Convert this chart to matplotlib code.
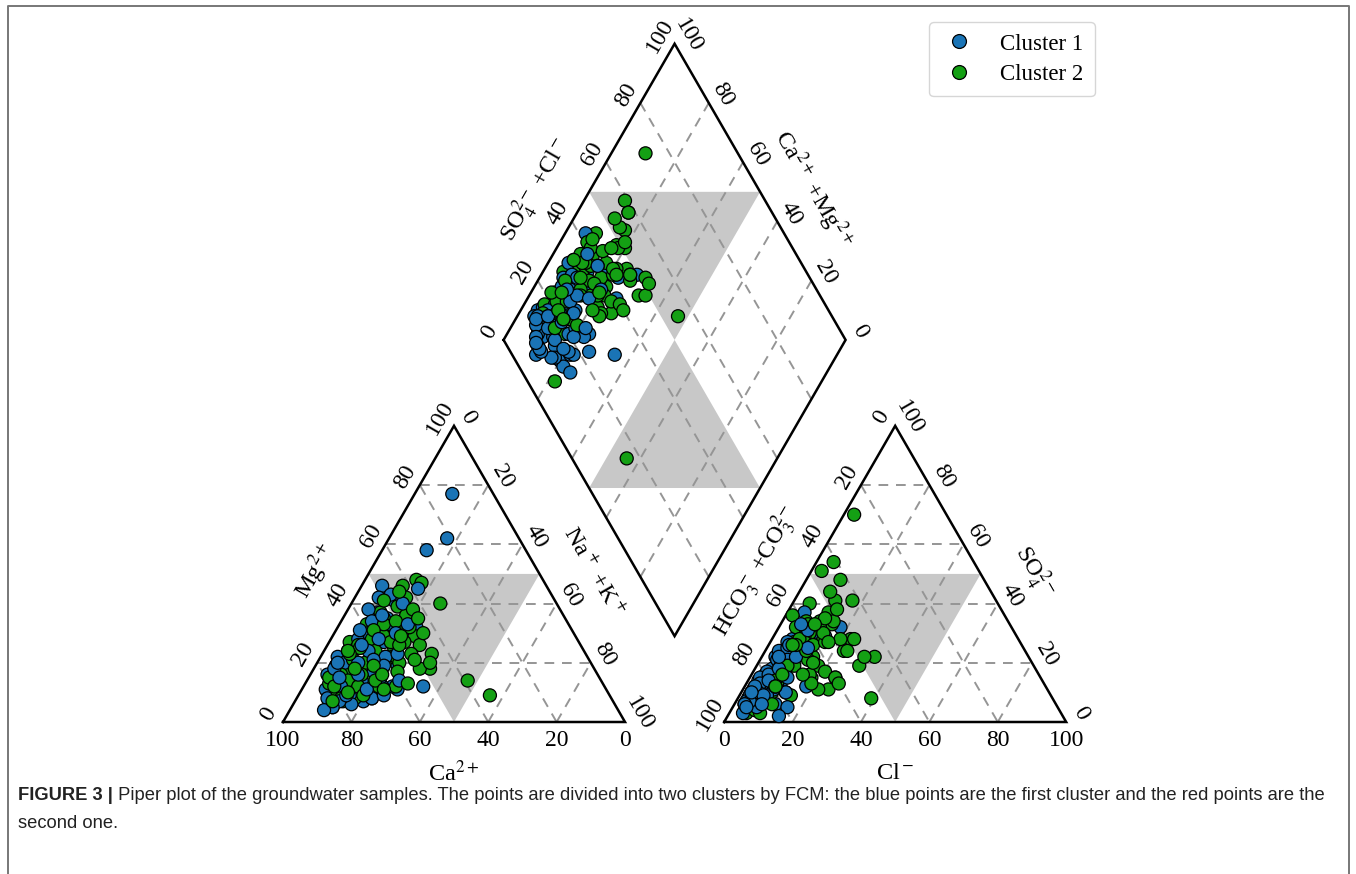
import numpy as np
import matplotlib
matplotlib.use('Agg')
import matplotlib.pyplot as plt
from matplotlib.lines import Line2D
from matplotlib.patches import Polygon

# ---------------- data (meq %) ----------------
# Cluster 1 (blue)
c1_mg = [77, 62, 58, 12, 7, 11, 32, 12, 46, 19, 12, 8, 42, 41, 37, 35, 45, 22, 15, 9,
         8, 12, 19, 24, 28, 30, 26, 21, 17, 14, 10, 6, 5, 13, 18, 23, 27, 33, 29, 25,
         20, 16, 11, 8, 14, 10, 17, 22, 31, 38, 34, 20, 24, 13, 9, 6, 15, 19, 28, 36,
         40, 43, 18, 12, 7, 21, 26, 16, 11, 30, 23, 9, 33, 14, 5, 4, 20, 9, 15]
c1_nak = [11, 17, 13, 35, 20, 28, 23, 26, 6, 24, 23, 22, 7, 12, 9, 13, 17, 5, 8, 11,
          22, 23, 6, 7, 8, 10, 12, 9, 10, 7, 9, 11, 12, 14, 13, 15, 16, 14, 11, 9,
          8, 5, 7, 9, 16, 18, 18, 19, 7, 6, 9, 12, 13, 9, 15, 17, 21, 20, 14, 11,
          15, 10, 6, 11, 13, 16, 10, 14, 19, 18, 22, 25, 20, 27, 12, 10, 6, 14, 9]
c1_cl = [8, 9, 6, 18, 5, 18, 15, 25, 5, 10, 8, 5, 6, 4, 8, 10, 11, 3, 4, 3,
         6, 12, 3, 5, 6, 4, 7, 5, 4, 3, 3, 3, 4, 5, 6, 8, 9, 7, 5, 4,
         3, 3, 3, 3, 6, 7, 9, 10, 4, 5, 6, 5, 7, 4, 5, 4, 8, 9, 8, 6,
         9, 6, 3, 3, 3, 7, 5, 6, 7, 10, 11, 8, 12, 13, 3, 4, 3, 16, 15]
c1_so4 = [20, 24, 18, 12, 8, 32, 29, 15, 37, 16, 16, 12, 28, 22, 30, 26, 30, 12, 10, 9,
          7, 6, 14, 18, 20, 16, 15, 13, 11, 10, 8, 6, 3, 10, 12, 14, 17, 23, 21, 17,
          15, 10, 9, 7, 8, 5, 11, 13, 24, 27, 25, 16, 19, 13, 10, 7, 9, 12, 21, 26,
          31, 33, 11, 12, 6, 18, 22, 14, 9, 22, 15, 6, 25, 10, 6, 5, 10, 5, 2]

# Cluster 2 (green)
c2_mg = [9, 46, 48, 47, 40, 42, 28, 32, 25, 29, 22, 23, 18, 14, 9, 27, 7, 10, 40, 33,
         30, 31, 32, 27, 25, 22, 22, 19, 17, 15, 11, 8, 7, 12, 12, 26, 23, 18, 35, 37,
         39, 36, 28, 26, 24, 20, 21, 16, 14, 13, 10, 16, 18, 20, 29, 33, 31, 27, 25, 23,
         15, 12, 9, 8, 17, 21, 34, 38, 44, 30, 26, 19, 14, 11, 24, 18, 12, 16, 29, 35,
         7, 41, 13, 20, 10]
c2_nak = [10, 12, 15, 17, 15, 15, 9, 17, 20, 24, 21, 32, 34, 47, 56, 22, 10, 8, 26, 8,
          8, 17, 21, 6, 13, 19, 22, 6, 11, 18, 13, 17, 14, 27, 22, 27, 26, 31, 12, 10,
          14, 18, 12, 9, 15, 14, 10, 9, 12, 7, 11, 15, 20, 24, 15, 13, 11, 18, 10, 8,
          6, 16, 19, 13, 25, 28, 16, 19, 12, 26, 21, 17, 20, 24, 7, 12, 9, 21, 20, 22,
          11, 9, 30, 33, 14]
c2_cl = [3, 5, 10, 3, 12, 17, 5, 12, 23, 15, 11, 39, 30, 33, 7, 5, 7, 9, 2, 5,
         7, 15, 10, 9, 11, 15, 18, 6, 9, 18, 8, 9, 10, 25, 22, 23, 24, 24, 10, 8,
         12, 15, 7, 10, 10, 9, 9, 9, 8, 4, 6, 11, 14, 17, 10, 9, 10, 13, 8, 9,
         8, 13, 15, 11, 21, 25, 12, 14, 9, 20, 16, 12, 16, 19, 8, 7, 9, 15, 14, 17,
         9, 10, 27, 30, 9]
c2_so4 = [70, 54, 48, 51, 41, 41, 40, 37, 28, 33, 34, 8, 19, 22, 9, 3, 4, 3, 36, 32,
          34, 28, 29, 20, 23, 22, 19, 12, 18, 15, 12, 10, 12, 11, 11, 24, 24, 28, 30, 33,
          32, 34, 27, 22, 25, 22, 16, 13, 17, 12, 14, 19, 21, 16, 30, 29, 27, 26, 28, 19,
          14, 10, 9, 6, 17, 15, 35, 38, 44, 28, 27, 24, 20, 13, 26, 26, 16, 16, 30, 27,
          12, 33, 13, 22, 12]

c1_ca = 100 - np.array(c1_mg) - np.array(c1_nak)
c1_hco3 = 100 - np.array(c1_cl) - np.array(c1_so4)
c2_ca = 100 - np.array(c2_mg) - np.array(c2_nak)
c2_hco3 = 100 - np.array(c2_cl) - np.array(c2_so4)

tick_values = [0, 20, 40, 60, 80, 100]
series_labels = ['Cluster 1', 'Cluster 2']
series_colors = ['#1a74b6', '#14a014']

# ---------------- style ----------------
plt.rcParams['font.family'] = ['Liberation Serif', 'DejaVu Serif']
plt.rcParams['mathtext.fontset'] = 'stix'

W, H = 1356, 874
fig = plt.figure(figsize=(W / 100, H / 100), dpi=100)
ax = fig.add_axes([0, 0, 1, 1])
U = 342.0
ax.set_xlim(-283 / U, (W - 283) / U)
ax.set_ylim(-(H - 722) / U, 722 / U)
ax.axis('off')

h = np.sqrt(3) / 2
g = 0.29
ox2 = 1 + g
L = np.array([0.5 + g / 2, h * (1 + g)])
B = np.array([1 + g / 2, g * h])
T = np.array([1 + g / 2, g * h + 2 * h])
R = B + T - L


def cat_xy(ca, mg, na):
    ca, mg, na = (np.asarray(v, float) for v in (ca, mg, na))
    t = ca + mg + na
    return (na + mg / 2) / t, mg * h / t


def an_xy(hco3, cl, so4):
    hco3, cl, so4 = (np.asarray(v, float) for v in (hco3, cl, so4))
    t = hco3 + cl + so4
    return ox2 + (cl + so4 / 2) / t, so4 * h / t


def dia_xy(a, b):
    a = np.asarray(a, float); b = np.asarray(b, float)
    return (L[0] + a * (B[0] - L[0]) + b * (T[0] - L[0]),
            L[1] + a * (B[1] - L[1]) + b * (T[1] - L[1]))


fill_c = '#c8c8c8'
grid_kw = dict(color='#959595', lw=1.4, ls=(0, (5, 4)), zorder=2)
edge_kw = dict(color='black', lw=1.8, zorder=3, solid_joinstyle='miter')

# gray zones
for pts in [cat_xy([50, 0, 50], [50, 50, 0], [0, 50, 50]),
            an_xy([50, 0, 50], [0, 50, 50], [50, 50, 0]),
            dia_xy([0, 0.5, 0.5], [0.5, 1, 0.5]),
            dia_xy([0.5, 1, 0.5], [0, 0.5, 0.5])]:
    ax.add_patch(Polygon(np.column_stack(pts), closed=True, facecolor=fill_c,
                         edgecolor='none', zorder=1))

# grids
for v in [20, 40, 60, 80]:
    for p in [cat_xy([100 - v, 0], [v, v], [0, 100 - v]),
              cat_xy([100 - v, 0], [0, 100 - v], [v, v]),
              cat_xy([v, v], [0, 100 - v], [100 - v, 0]),
              an_xy([100 - v, 0], [0, 100 - v], [v, v]),
              an_xy([v, v], [0, 100 - v], [100 - v, 0]),
              an_xy([100 - v, 0], [v, v], [0, 100 - v]),
              dia_xy([v / 100, v / 100], [0, 1]),
              dia_xy([0, 1], [v / 100, v / 100])]:
        ax.plot(p[0], p[1], **grid_kw)

# outlines
ax.plot([0, 1, 0.5, 0], [0, 0, h, 0], **edge_kw)
ax.plot([ox2, ox2 + 1, ox2 + 0.5, ox2], [0, 0, h, 0], **edge_kw)
ax.plot([L[0], B[0], R[0], T[0], L[0]], [L[1], B[1], R[1], T[1], L[1]], **edge_kw)

# ---------------- tick labels ----------------
fs_tick = 17
nl = np.array([-h, 0.5])
nr = np.array([h, 0.5])


def edge_labels(p0, p1, normal, rot, off=0.048):
    p0 = np.asarray(p0, float); p1 = np.asarray(p1, float)
    for v in tick_values:
        p = p0 + v / 100 * (p1 - p0) + off * normal
        ax.text(p[0], p[1], str(v), rotation=rot, rotation_mode='anchor',
                ha='center', va='center', fontsize=fs_tick)


def bottom_labels(x0, x1):
    for v in tick_values:
        x = x0 + v / 100 * (x1 - x0)
        ax.text(x, -0.055, str(v), ha='center', va='center', fontsize=fs_tick)


# left triangle
bottom_labels(1, 0)                                   # Ca: 100 at left
edge_labels((0, 0), (0.5, h), nl, 60)                 # Mg
edge_labels((0.5, h), (1, 0), nr, -60)                # Na+K
# right triangle
bottom_labels(ox2, ox2 + 1)                           # Cl
edge_labels((ox2 + 0.5, h), (ox2, 0), nl, 60)         # HCO3+CO3
edge_labels((ox2 + 1, 0), (ox2 + 0.5, h), nr, -60)    # SO4
# diamond
edge_labels(L, T, nl, 60)                             # SO4+Cl
edge_labels(R, T, nr, -60)                            # Ca+Mg

# ---------------- axis titles ----------------
fs_title = 17.5


def edge_title(p_low, p_high, normal, rot, text):
    p_low = np.asarray(p_low, float); p_high = np.asarray(p_high, float)
    mid = (p_low + p_high) / 2
    d = (p_low - p_high) / np.linalg.norm(p_low - p_high)
    p = mid + 0.072 * d + 0.138 * normal
    ax.text(p[0], p[1], text, rotation=rot, rotation_mode='anchor',
            ha='center', va='center', fontsize=fs_title)


edge_title((0, 0), (0.5, h), nl, 60, r'Mg$^{2+}$')
edge_title((1, 0), (0.5, h), nr, -60, r'Na$^+$ +K$^+$')
edge_title((ox2, 0), (ox2 + 0.5, h), nl, 60, r'HCO$_3^-$ +CO$_3^{2-}$')
edge_title((ox2 + 1, 0), (ox2 + 0.5, h), nr, -60, r'SO$_4^{2-}$')
edge_title(L, T, nl, 60, r'SO$_4^{2-}$ +Cl$^-$')
edge_title(R, T, nr, -60, r'Ca$^{2+}$ +Mg$^{2+}$')
ax.text(0.5, -0.15, r'Ca$^{2+}$', ha='center', va='center', fontsize=fs_title)
ax.text(ox2 + 0.5, -0.15, r'Cl$^-$', ha='center', va='center', fontsize=fs_title)

# ---------------- points (samples plotted interleaved) ----------------
groups = [(c1_ca, c1_mg, c1_nak, c1_hco3, c1_cl, c1_so4),
          (c2_ca, c2_mg, c2_nak, c2_hco3, c2_cl, c2_so4)]
pos = []
for (ca, mg, na, hc, cl, so), col in zip(groups, series_colors):
    ca, mg, na, hc, cl, so = (np.asarray(v, float) for v in (ca, mg, na, hc, cl, so))
    x1, y1 = cat_xy(ca, mg, na)
    x2, y2 = an_xy(hc, cl, so)
    x3, y3 = dia_xy(na / (ca + mg + na), (cl + so) / (hc + cl + so))
    pos.append((x1, y1, x2, y2, x3, y3, col))

n_max = max(len(c1_mg), len(c2_mg))
order = []
for i in range(n_max):
    for gi in range(2):
        if i < len(pos[gi][0]):
            order.append((gi, i))

for k in range(3):
    xs = [pos[gi][2 * k][i] for gi, i in order]
    ys = [pos[gi][2 * k + 1][i] for gi, i in order]
    cs = [pos[gi][6] for gi, i in order]
    ax.scatter(xs, ys, s=88, c=cs, edgecolors='black', linewidths=0.9, zorder=4)

handles = [Line2D([], [], ls='none', marker='o', markersize=10, markerfacecolor=c,
                  markeredgecolor='black', markeredgewidth=0.9) for c in series_colors]
leg = ax.legend(handles=handles, labels=series_labels, loc='upper right',
                bbox_to_anchor=(1095 / W, 1 - 22 / H), bbox_transform=fig.transFigure,
                borderaxespad=0, fontsize=16.5, frameon=True, fancybox=True,
                handlelength=1.6, handletextpad=1.0, borderpad=0.5, labelspacing=0.4)
leg.get_frame().set_edgecolor('#cccccc')

# ---------------- frame & caption ----------------
fig.add_artist(Line2D([8 / W, 8 / W, 1349 / W, 1349 / W],
                      [0, 1 - 6 / H, 1 - 6 / H, 0],
                      transform=fig.transFigure, color='#777777', lw=1.4))

cap_kw = dict(family=['Liberation Sans', 'DejaVu Sans'], fontsize=13.2, color='#222222')
t1 = fig.text(18 / W, 1 - 795 / H, 'FIGURE 3 |', fontweight='bold', va='center', **cap_kw)
ax.annotate(' Piper plot of the groundwater samples. The points are divided into two clusters '
            'by FCM: the blue points are the first cluster and the red points are the',
            xy=(1, 0.5), xycoords=t1, va='center', ha='left', **cap_kw)
fig.text(18 / W, 1 - 823 / H, 'second one.', va='center', **cap_kw)

fig.savefig('out.png', dpi=100)
